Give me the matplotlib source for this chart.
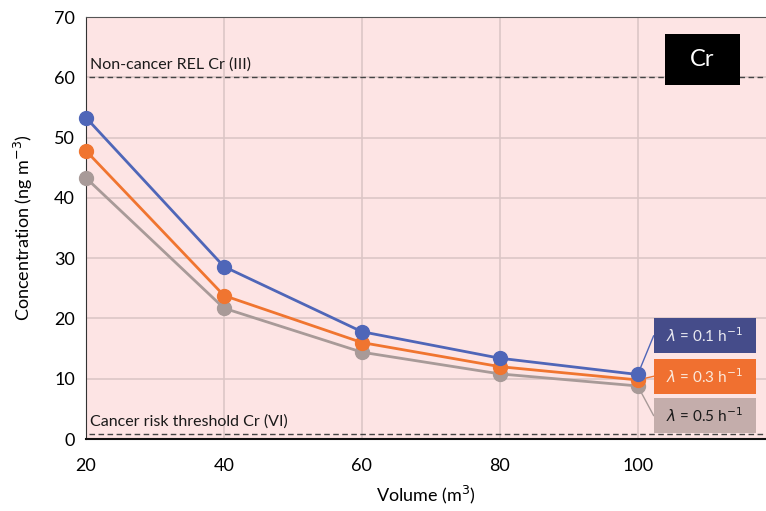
import matplotlib
matplotlib.use("Agg")
import matplotlib.pyplot as plt
from matplotlib.patches import Rectangle

plt.rcParams['font.family'] = ['Lato', 'DejaVu Sans']

# Cr concentration vs room volume for three air exchange rates
volume = [20, 40, 60, 80, 100]
cr_01 = [53.3, 28.6, 17.8, 13.4, 10.7]
cr_03 = [47.8, 23.8, 16.0, 12.0, 9.8]
cr_05 = [43.3, 21.7, 14.4, 10.8, 8.8]
series_labels = [r'$\lambda$ = 0.1 h$^{-1}$', r'$\lambda$ = 0.3 h$^{-1}$', r'$\lambda$ = 0.5 h$^{-1}$']

rel_cr3 = 60.0
cancer_cr6 = 0.8

line_colors = ['#4F66B8', '#F07530', '#A89A98']
box_colors = ['#454C8A', '#F07030', '#C4ADAB']
box_text = ['#E8E8F0', '#FBE8DA', '#1A1A1A']

fig = plt.figure(figsize=(7.66, 5.11), dpi=100)
ax = fig.add_axes([0.1123, 0.1409, 0.8877, 0.8258])
ax.set_facecolor('#FDE4E4')

ax.set_xlim(20, 118.6)
ax.set_ylim(0, 70)
ax.set_xticks([20, 40, 60, 80, 100])
ax.set_yticks(range(0, 71, 10))
ax.grid(True, color='#DCC6C6', lw=1.2)
ax.set_axisbelow(True)
ax.tick_params(length=0, labelsize=13, pad=8)
ax.tick_params(axis='x', pad=14)

ax.spines['right'].set_visible(False)
ax.spines['top'].set_color('#555555')
ax.spines['left'].set_color('#333333')
ax.spines['bottom'].set_color('#111111')
ax.spines['bottom'].set_linewidth(1.5)

ax.axhline(rel_cr3, xmin=0.004, color='#444444', ls=(0, (4, 2.5)), lw=1)
ax.axhline(cancer_cr6, xmin=0.004, color='#444444', ls=(0, (4, 2.5)), lw=1)
ax.text(20.6, rel_cr3 + 0.9, 'Non-cancer REL Cr (III)', fontsize=11.5, color='#1A1A1A', va='bottom')
ax.text(20.6, cancer_cr6 + 0.9, 'Cancer risk threshold Cr (VI)', fontsize=11.5, color='#1A1A1A', va='bottom')

for vals, c in zip([cr_01, cr_03, cr_05][::-1], line_colors[::-1]):
    ax.plot(volume, vals, color=c, lw=2, marker='o', ms=10, clip_on=False, zorder=3)

# label boxes to the right of the last point, joined by thin leader lines
box_x0, box_w, box_h = 102.3, 14.8, 5.8
box_mid = [17.1, 10.4, 3.9]
for vals, lab, fc, tc, lc, ym in zip([cr_01, cr_03, cr_05], series_labels, box_colors, box_text, line_colors, box_mid):
    ax.add_patch(Rectangle((box_x0, ym - box_h / 2), box_w, box_h, fc=fc, ec='none', zorder=5))
    ax.text(box_x0 + box_w / 2, ym, lab, fontsize=11, color=tc, ha='center', va='center', zorder=6)
    ax.plot([volume[-1], box_x0], [vals[-1], ym], color=lc, lw=1, zorder=2)

ax.add_patch(Rectangle((103.9, 58.8), 11.0, 8.3, fc='black', ec='none', zorder=5))
ax.text(109.4, 63.0, 'Cr', fontsize=17, color='white', ha='center', va='center', zorder=6)

ax.set_xlabel('Volume (m$^3$)', fontsize=13, labelpad=7)
ax.set_ylabel('Concentration (ng m$^{-3}$)', fontsize=13, labelpad=14)

fig.savefig('out.png', dpi=100)
